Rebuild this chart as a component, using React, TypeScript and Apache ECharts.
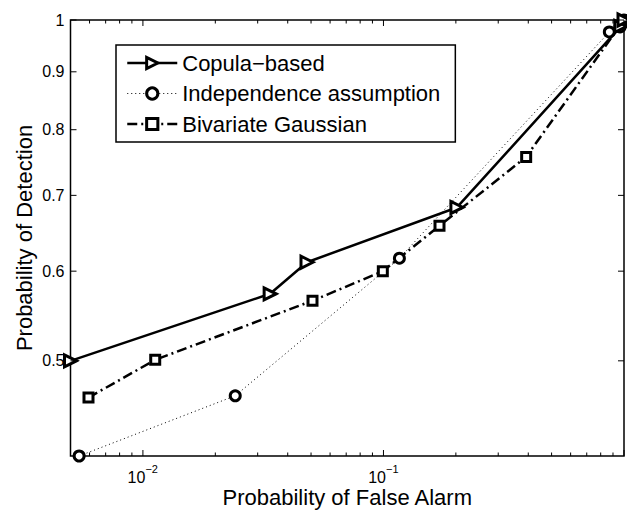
import React, { useEffect, useRef } from 'react';
import * as echarts from 'echarts';

// ---- data ----
const copulaX = [0.005, 0.0338, 0.0481, 0.202, 0.97, 1.0];
const copulaY = [0.5, 0.573, 0.611, 0.683, 0.987, 1.0];
const indepX = [0.00543, 0.0242, 0.1165, 0.869, 0.963, 1.0];
const indepY = [0.412, 0.4657, 0.616, 0.976, 0.986, 1.0];
const gaussX = [0.00594, 0.01125, 0.0507, 0.0994, 0.171, 0.392, 1.0];
const gaussY = [0.464, 0.501, 0.565, 0.6, 0.658, 0.757, 1.0];

const seriesNames = ['Copula\u2212based', 'Independence assumption', 'Bivariate Gaussian'];

const xMin = 0.005;
const xMax = 1;
const yMin = 0.412;
const yMax = 1;

const xMajorTicks = [0.01, 0.1, 1];
const xMajorExponents = ['\u22122', '\u22121', ''];
const xMinorTicks = [0.006, 0.007, 0.008, 0.009, 0.02, 0.03, 0.04, 0.05, 0.06, 0.07, 0.08, 0.09, 0.2, 0.3, 0.4, 0.5, 0.6, 0.7, 0.8, 0.9];
const yTicks = [0.5, 0.6, 0.7, 0.8, 0.9, 1];
const yTickLabels = ['0.5', '0.6', '0.7', '0.8', '0.9', '1'];

const FONT = '"Liberation Sans", Arial, Helvetica, sans-serif';
const L = (v: number) => Math.log10(v);

const markerStyle = { color: '#fff', borderColor: '#000', borderWidth: 3 };
const lineStyles: any[] = [
  { color: '#000', width: 2.5, type: 'solid' },
  { color: '#000', width: 1, type: [1, 3] },
  { color: '#000', width: 2.5, type: [10, 4, 2, 4] },
];

export default function App() {
  const ref = useRef<HTMLDivElement>(null);
  useEffect(() => {
    if (!ref.current) return;
    const chart = echarts.init(ref.current, null, { renderer: 'svg' });

    const xTickData = [
      ...xMajorTicks.map((v, i) => [L(v), L(yMin), 1, i]),
      ...xMinorTicks.map((v) => [L(v), L(yMin), 0, -1]),
    ];
    const yTickData = yTicks.map((v, i) => [L(xMin), L(v), 1, i]);

    const option: any = {
      animation: false,
      backgroundColor: '#fff',
      grid: {
        left: 70.5, top: 20, right: 3, bottom: 54, containLabel: false, outerBoundsMode: 'none',
        show: true, borderColor: '#000', borderWidth: 1.5, backgroundColor: 'transparent',
      },
      xAxis: {
        type: 'value', min: L(xMin), max: L(xMax),
        axisLine: { show: false }, axisTick: { show: false }, axisLabel: { show: false }, splitLine: { show: false },
        name: 'Probability of False Alarm', nameLocation: 'middle', nameGap: 30,
        nameTextStyle: { fontSize: 22, color: '#000', fontFamily: FONT },
      },
      yAxis: {
        type: 'value', min: L(yMin), max: L(yMax),
        axisLine: { show: false }, axisTick: { show: false }, axisLabel: { show: false }, splitLine: { show: false },
        name: 'Probability of Detection', nameLocation: 'middle', nameGap: 35, nameRotate: 90,
        nameTextStyle: { fontSize: 22, color: '#000', fontFamily: FONT },
      },
      legend: {
        data: seriesNames.map((n, i) => ({ name: n, itemStyle: markerStyle, lineStyle: lineStyles[i] })),
        orient: 'vertical', left: 116, top: 45,
        padding: [6, 15, 6, 10], itemWidth: 50, itemHeight: 14, itemGap: 6.5,
        borderColor: '#000', borderWidth: 1.5, backgroundColor: '#fff', selectedMode: false,
        textStyle: { fontSize: 22, color: '#000', fontFamily: FONT, lineHeight: 24 },
      },
      series: [
        {
          name: seriesNames[0], type: 'line', clip: false, z: 4,
          data: copulaX.map((x, i) => [L(x), L(copulaY[i])]),
          symbol: 'triangle', symbolRotate: -90, symbolSize: 12,
          lineStyle: lineStyles[0],
          itemStyle: markerStyle,
        },
        {
          name: seriesNames[1], type: 'line', clip: false, z: 3,
          data: indepX.map((x, i) => [L(x), L(indepY[i])]),
          symbol: 'circle', symbolSize: 10,
          lineStyle: lineStyles[1],
          itemStyle: markerStyle,
        },
        {
          name: seriesNames[2], type: 'line', clip: false, z: 3,
          data: gaussX.map((x, i) => [L(x), L(gaussY[i])]),
          symbol: 'rect', symbolSize: 9,
          lineStyle: lineStyles[2],
          itemStyle: markerStyle,
        },
        {
          type: 'custom', silent: true, clip: false, z: 5,
          data: xTickData,
          renderItem: (params: any, api: any) => {
            const x = api.value(0);
            const major = api.value(2);
            const idx = api.value(3);
            const b = api.coord([x, L(yMin)]);
            const t = api.coord([x, L(yMax)]);
            const len = major ? 6 : 3.5;
            const children: any[] = [
              { type: 'line', shape: { x1: b[0], y1: b[1], x2: b[0], y2: b[1] - len }, style: { stroke: '#000', lineWidth: 1 } },
              { type: 'line', shape: { x1: t[0], y1: t[1], x2: t[0], y2: t[1] + len }, style: { stroke: '#000', lineWidth: 1 } },
            ];
            if (major && idx >= 0 && xMajorExponents[idx]) {
              children.push({ type: 'text', x: b[0] + 2.5, y: b[1] + 21, style: { text: '10', align: 'right', verticalAlign: 'middle', fontSize: 16, fontFamily: FONT, fill: '#000' } });
              children.push({ type: 'text', x: b[0] + 2.5, y: b[1] + 13, style: { text: xMajorExponents[idx], align: 'left', verticalAlign: 'middle', fontSize: 11, fontFamily: FONT, fill: '#000' } });
            }
            return { type: 'group', children };
          },
        },
        {
          type: 'custom', silent: true, clip: false, z: 5,
          data: yTickData,
          renderItem: (params: any, api: any) => {
            const y = api.value(1);
            const idx = api.value(3);
            const l = api.coord([L(xMin), y]);
            const r = api.coord([L(xMax), y]);
            return {
              type: 'group',
              children: [
                { type: 'line', shape: { x1: l[0], y1: l[1], x2: l[0] + 6, y2: l[1] }, style: { stroke: '#000', lineWidth: 1 } },
                { type: 'line', shape: { x1: r[0], y1: r[1], x2: r[0] - 6, y2: r[1] }, style: { stroke: '#000', lineWidth: 1 } },
                { type: 'text', x: l[0] - 6, y: l[1], style: { text: yTickLabels[idx], align: 'right', verticalAlign: 'middle', fontSize: 16, fontFamily: FONT, fill: '#000' } },
              ],
            };
          },
        },
      ],
    };
    chart.setOption(option);
    return () => chart.dispose();
  }, []);
  return <div ref={ref} style={{ position: 'absolute', left: 0, top: 0, width: 627, height: 510 }} />;
}
